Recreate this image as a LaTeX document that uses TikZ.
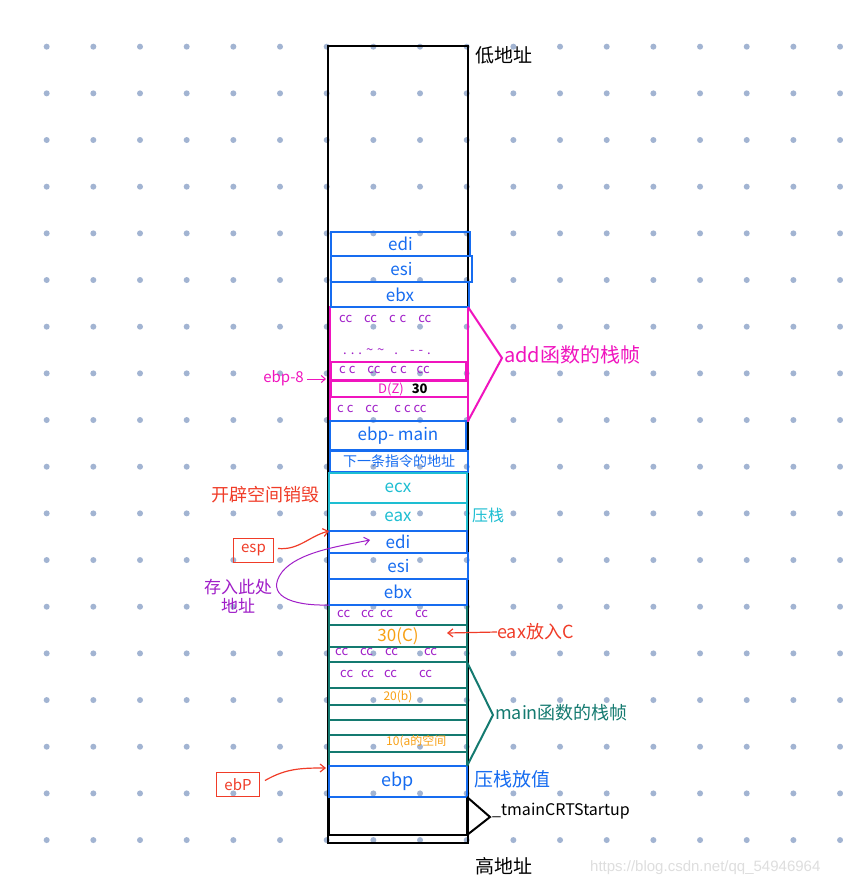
\documentclass[tikz,border=0pt]{standalone}
\usepackage{fontspec}
\setmainfont{Noto Sans CJK SC}
\newfontfamily\wmfont{Liberation Sans}
\usetikzlibrary{arrows.meta}
\definecolor{cblue}{RGB}{22,108,240}
\definecolor{cpink}{RGB}{240,20,190}
\definecolor{cpurple}{RGB}{160,30,200}
\definecolor{ccyan}{RGB}{30,190,210}
\definecolor{cteal}{RGB}{20,122,112}
\definecolor{corange}{RGB}{248,160,20}
\definecolor{cred}{RGB}{240,60,40}
\definecolor{cdot}{RGB}{162,180,210}
\definecolor{cwm}{RGB}{222,222,222}
\newcommand{\gap}[1]{\hspace{#1pt}}
\tikzset{
  cell/.style={draw, line width=2.4pt, inner sep=0pt, outer sep=0pt, anchor=north west, minimum width=138pt},
  bluecell/.style={cell, draw=cblue, text=cblue},
  pinkcell/.style={cell, draw=cpink, text=cpurple},
  cyancell/.style={cell, draw=ccyan, text=ccyan},
  tealcell/.style={cell, draw=cteal, text=cpurple},
  blackcell/.style={cell, draw=black},
  reg/.style={font=\fontsize{17}{17}\selectfont},
  cctext/.style={font=\fontsize{13}{13}\selectfont, text=cpurple, inner sep=0pt},
  lab/.style={anchor=west, inner sep=0pt},
  redbox/.style={draw=cred, line width=1pt, text=cred, inner sep=0pt, font=\fontsize{15}{15}\selectfont},
  bracket/.style={line width=2pt},
  redarrow/.style={draw=cred, line width=1.2pt, -{Straight Barb[length=5pt,width=8pt]}},
}
\begin{document}
\begin{tikzpicture}[x=1pt,y=-1pt]
\useasboundingbox (0,0) rectangle (843,887);
\fill[white] (0,0) rectangle (843,887);
% dot grid
\foreach \i in {1,...,18}{
  \foreach \j in {1,...,18}{
    \fill[cdot] (\i*46.67,\j*46.67) circle (3pt);
  }
}
% outer stack
\node[draw=black, line width=2.2pt, inner sep=0pt, outer sep=0pt, anchor=north west, minimum width=140pt, minimum height=797pt] (stack) at (328,46) {};
% main frame (teal)
\node[tealcell, minimum height=20pt] (m1) at (329,605) {};
\node[tealcell, minimum height=22pt, text=corange, font=\fontsize{17}{17}\selectfont] (m2) at (329,625) {30(C)};
\node[tealcell, minimum height=15pt] (m3) at (329,647) {};
\node[tealcell, minimum height=26pt] (m4) at (329,662) {};
\node[tealcell, minimum height=17pt, text=corange, font=\fontsize{12}{12}\selectfont] (m5) at (329,688) {20(b)};
\node[tealcell, minimum height=15pt] (m6) at (329,705) {};
\node[tealcell, minimum height=15pt] (m7) at (329,720) {};
\node[tealcell, minimum height=17pt] (m8) at (329,735) {};
\node[tealcell, minimum height=14pt] (m9) at (329,752) {};
\node[cctext, anchor=west] (m1t) at (337,614) {cc\gap{11}cc\gap{6}cc\gap{22}cc};
\node[cctext, anchor=west] (m3t) at (335,652) {cc\gap{12}cc\gap{12}cc\gap{26}cc};
\node[cctext, anchor=west] (m4t) at (340,674) {cc\gap{8}cc\gap{10}cc\gap{22}cc};
\node[text=corange, font=\fontsize{12}{12}\selectfont, inner sep=0pt, anchor=west] (m8t) at (386,742) {10(a的空间};
% black bottom cell
\node[blackcell, minimum height=38pt] (crt) at (329,797) {};
% add frame (pink)
\node[pinkcell, minimum height=114pt] (addframe) at (330,307) {};
\node[pinkcell, minimum width=135pt, minimum height=18pt] (addcc2) at (331,362) {};
\node[pinkcell, minimum width=137pt, minimum height=16pt] (addd) at (331,381) {};
\node[pinkcell, minimum height=24pt] (addcc3) at (330,397) {};
\node[cctext, anchor=west] (addcc1t) at (339,319) {cc\gap{12}cc\gap{12}c\gap{4}c\gap{12}cc};
\node[cctext, anchor=west] (adddots) at (343,352) {.\gap{4}.\gap{4}.\gap{4}\char`~\gap{4}\char`~\gap{10}.\gap{12}-\gap{4}-\gap{4}.};
\node[cctext, anchor=west] (addcc2t) at (339,370) {c\gap{3}c\gap{12}cc\gap{10}c\gap{3}c\gap{10}cc};
\node[font=\fontsize{13}{13}\selectfont, inner sep=0pt, anchor=west] (adddt) at (378,389) {\textcolor{cpink}{D(Z)}\gap{8}\textbf{30}};
\node[cctext, anchor=west] (addcc3t) at (337,409) {c\gap{3}c\gap{12}cc\gap{16}c\gap{3}c\gap{3}cc};
% blue cells add
\node[bluecell, minimum width=139pt, minimum height=24pt, reg] (edi1) at (331,232) {edi};
\node[bluecell, minimum width=141pt, minimum height=26pt, reg] (esi1) at (331,256) {esi};
\node[bluecell, minimum height=25pt, reg] (ebx1) at (331,282) {ebx};
\node[bluecell, minimum width=136pt, minimum height=29pt, reg] (ebpmain) at (330,421) {ebp- main};
\node[bluecell, minimum height=21pt, font=\fontsize{14}{14}\selectfont] (nextins) at (330,451) {下一条指令的地址};
\node[cyancell, minimum height=30pt, reg] (ecx) at (329,473) {ecx};
\node[cyancell, minimum height=28pt, reg] (eax) at (329,503) {eax};
\node[bluecell, minimum height=22pt, reg] (edi2) at (329,531) {edi};
\node[bluecell, minimum width=139pt, minimum height=26pt, reg] (esi2) at (329,553) {esi};
\node[bluecell, minimum height=26pt, reg] (ebx2) at (329,579) {ebx};
\node[bluecell, minimum height=31pt, font=\fontsize{18}{18}\selectfont] (ebp) at (329,766) {ebp};
% brackets
\coordinate (pinktip) at (502,358);
\coordinate (tealtip) at (493,715);
\coordinate (blacktip) at (490,817);
\draw[bracket, cpink] (addframe.north east) -- (pinktip) -- (addframe.south east);
\draw[bracket, cteal] (m4.north east) -- (tealtip) -- (m9.south east);
\draw[bracket, black] (crt.north east) -- (blacktip) -- (crt.south east);
% right labels
\node[lab, text=cpink, font=\fontsize{20}{20}\selectfont] (addlab) at (504,355) {add函数的栈帧};
\node[lab, text=cteal, font=\fontsize{18}{18}\selectfont] (mainlab) at (495,713) {main函数的栈帧};
\node[lab, font=\fontsize{16}{16}\selectfont] (crtlab) at (492,811) {\_tmainCRTStartup};
\node[lab, font=\fontsize{19}{19}\selectfont] (low) at (475,55) {低地址};
\node[lab, font=\fontsize{19}{19}\selectfont] (high) at (475,866) {高地址};
\node[lab, text=ccyan, font=\fontsize{16}{16}\selectfont] (push1) at (472,515) {压栈};
\node[lab, text=cblue, font=\fontsize{19}{19}\selectfont] (push2) at (474,779) {压栈放值};
\node[lab, text=cred, font=\fontsize{18}{18}\selectfont] (eaxc) at (497,632) {eax放入C};
\coordinate (eaxtarget) at (447,633);
\draw[redarrow] (eaxc.west) -- (eaxtarget);
% left labels
\node[anchor=east, inner sep=0pt, text=cpink, font=\fontsize{15}{15}\selectfont] (ebp8) at (304,378) {ebp-8};
\coordinate (ebp8target) at (326,379);
\draw[cpink, line width=1pt, -{Straight Barb[length=4pt,width=7pt]}] (ebp8.east) ++(3,1) -- (ebp8target);
\node[text=cred, font=\fontsize{18}{18}\selectfont, inner sep=0pt] (destroy) at (265,495) {开辟空间销毁};
\node[redbox, minimum width=40pt, minimum height=24pt, anchor=north west] (esp) at (233,538) {esp};
\coordinate (esptarget) at (329,531);
\draw[redarrow] (esp.east) ++(4,-2) to[out=-5,in=195] (esptarget);
\node[redbox, minimum width=43pt, minimum height=24pt, anchor=north west] (ebpbox) at (216,772) {ebP};
\coordinate (ebptarget) at (326,768);
\draw[redarrow] (ebpbox.east) ++(5,-4) to[out=30,in=180] (ebptarget);
\node[text=cpurple, font=\fontsize{17}{19}\selectfont, align=center, inner sep=0pt] (store) at (238,596) {存入此处\\地址};
\coordinate (ediarrow) at (370,540);
\draw[cpurple, line width=1pt, -{Straight Barb[length=5pt,width=8pt]}] (ebx2.south west) .. controls (290,606) and (265,595) .. (282,572) .. controls (298,552) and (340,546) .. (ediarrow);
% watermark
\node[anchor=west, inner sep=0pt, text=cwm, font=\wmfont\fontsize{15}{15}\selectfont] (wm) at (590,868) {https://blog.csdn.net/qq\_54946964};
\end{tikzpicture}
\end{document}
